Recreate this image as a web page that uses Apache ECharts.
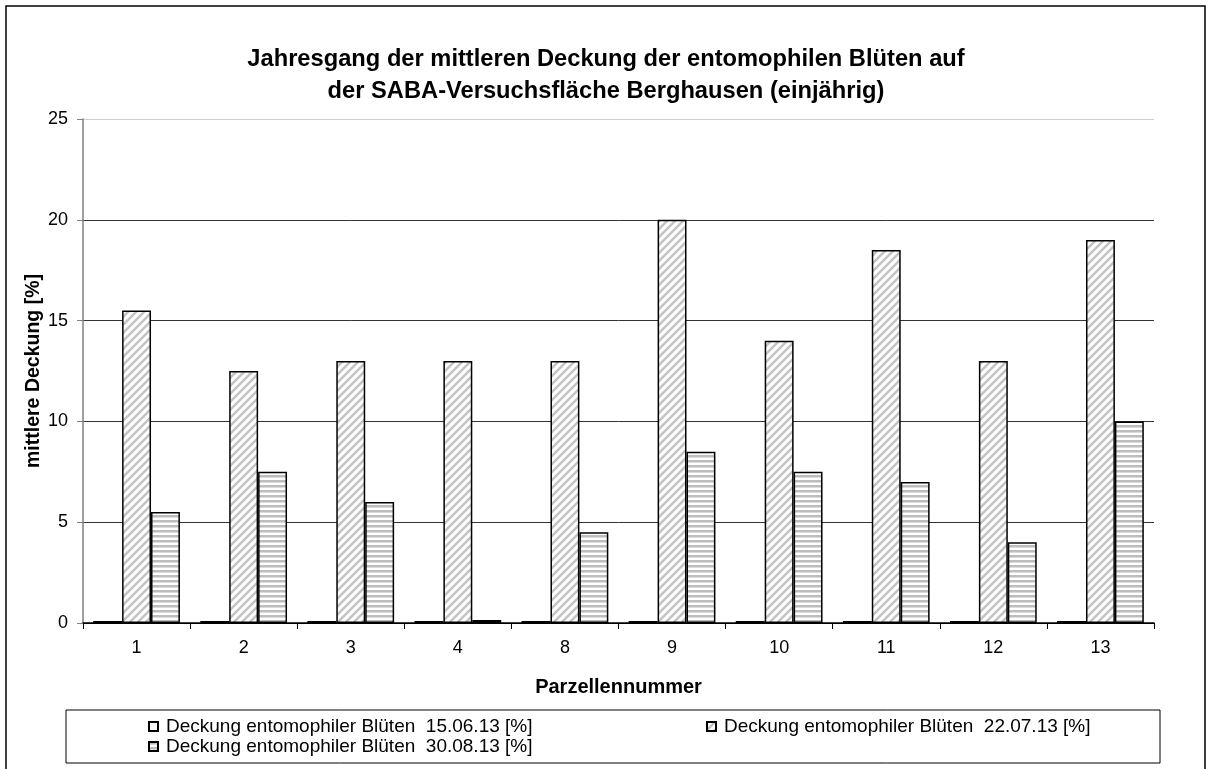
<!DOCTYPE html>
<html>
<head>
<meta charset="utf-8">
<script src="https://cdn.jsdelivr.net/npm/echarts@6/dist/echarts.min.js"></script>
<style>
  html, body { margin: 0; padding: 0; background: #fff; }
  #chart { width: 1212px; height: 769px; }
</style>
</head>
<body>
<div id="chart"></div>
<script>
// Plot numbers (Parzellennummer) and mean cover per sampling date
const plots = ['1', '2', '3', '4', '8', '9', '10', '11', '12', '13'];
const cover150613 = [0.1, 0.1, 0.1, 0.1, 0.1, 0.1, 0.1, 0.1, 0.1, 0.1];
const cover220713 = [15.5, 12.5, 13, 13, 13, 20, 14, 18.5, 13, 19];
const cover300813 = [5.5, 7.5, 6, 0.15, 4.5, 8.5, 7.5, 7, 4, 10];
const seriesNames = [
  'Deckung entomophiler Blüten  15.06.13 [%]',
  'Deckung entomophiler Blüten  22.07.13 [%]',
  'Deckung entomophiler Blüten  30.08.13 [%]'
];
const yTicks = [0, 5, 10, 15, 20, 25];

const FONT = 'Liberation Sans, Arial, sans-serif';

// Diagonal hatch fill
function diagonalPattern() {
  const c = document.createElement('canvas');
  c.width = 8; c.height = 8;
  const g = c.getContext('2d');
  g.fillStyle = '#ffffff';
  g.fillRect(0, 0, 8, 8);
  g.strokeStyle = '#c4c4c4';
  g.lineWidth = 2.6;
  g.beginPath();
  g.moveTo(-1, 9); g.lineTo(9, -1);
  g.moveTo(-5, 5); g.lineTo(5, -5);
  g.moveTo(3, 13); g.lineTo(13, 3);
  g.stroke();
  return c;
}
// Horizontal stripe fill
function horizontalPattern() {
  const c = document.createElement('canvas');
  c.width = 4; c.height = 5;
  const g = c.getContext('2d');
  g.fillStyle = '#ffffff';
  g.fillRect(0, 0, 4, 5);
  g.fillStyle = '#bdbdbd';
  g.fillRect(0, 0, 4, 2);
  g.fillStyle = '#dcdcdc';
  g.fillRect(0, 2, 4, 1);
  return c;
}

const fills = [
  '#ffffff',
  { image: diagonalPattern(), repeat: 'repeat' },
  { image: horizontalPattern(), repeat: 'repeat' }
];
const values = [cover150613, cover220713, cover300813];

const chart = echarts.init(document.getElementById('chart'), null, { renderer: 'canvas' });

const legendPos = [
  { left: 148, top: 717 },
  { left: 706, top: 717 },
  { left: 148, top: 737 }
];

const option = {
  backgroundColor: '#ffffff',
  animation: false,
  title: {
    text: 'Jahresgang der mittleren Deckung der entomophilen Blüten auf\nder SABA-Versuchsfläche Berghausen (einjährig)',
    left: 'center',
    top: 38,
    textStyle: { fontFamily: FONT, fontSize: 23.7, fontWeight: 'bold', color: '#000', lineHeight: 32 }
  },
  legend: seriesNames.map((n, i) => ({
    data: [n],
    left: legendPos[i].left,
    top: legendPos[i].top,
    orient: 'horizontal',
    icon: 'rect',
    itemWidth: 9,
    itemHeight: 9,
    itemGap: 0,
    padding: 0,
    selectedMode: false,
    textStyle: { fontFamily: FONT, fontSize: 19, color: '#000', padding: [0, 0, 0, 3] }
  })),
  grid: { left: 83, right: 58, top: 119, bottom: 146, containLabel: false },
  xAxis: {
    type: 'category',
    data: plots,
    name: 'Parzellennummer',
    nameLocation: 'middle',
    nameGap: 54,
    nameTextStyle: { fontFamily: FONT, fontSize: 20, fontWeight: 'bold', color: '#000' },
    axisLine: { lineStyle: { color: '#000', width: 1.5 } },
    axisTick: { show: true, length: 6, lineStyle: { color: '#000' } },
    axisLabel: { fontFamily: FONT, fontSize: 18, color: '#000', margin: 16 },
    splitLine: { show: false }
  },
  yAxis: {
    type: 'value',
    min: 0,
    max: 25,
    interval: 5,
    name: 'mittlere Deckung [%]',
    nameLocation: 'middle',
    nameGap: 39,
    nameMoveOverlap: false,
    nameRotate: 90,
    nameTextStyle: { fontFamily: FONT, fontSize: 19.5, fontWeight: 'bold', color: '#000' },
    axisLine: { show: true, lineStyle: { color: '#808080', width: 1.5 } },
    axisTick: { show: true, length: 6, lineStyle: { color: '#808080' } },
    axisLabel: {
      fontFamily: FONT, fontSize: 18, color: '#000', margin: 15,
      formatter: v => (yTicks.indexOf(v) >= 0 ? String(v) : '')
    },
    splitLine: {
      show: true,
      lineStyle: { color: ['#000', '#333', '#333', '#333', '#333', '#cfcfcf'], width: 1 }
    }
  },
  series: values.map((vals, i) => ({
    name: seriesNames[i],
    type: 'bar',
    data: vals,
    barGap: '0%',
    barCategoryGap: '19%',
    itemStyle: { color: fills[i], borderColor: '#000', borderWidth: 1.5 },
    emphasis: { disabled: true }
  })),
  graphic: [
    {
      type: 'rect',
      shape: { x: 6, y: 6, width: 1199, height: 770 },
      style: { fill: 'none', stroke: '#000', lineWidth: 1.5 },
      silent: true
    },
    {
      type: 'rect',
      shape: { x: 66, y: 710, width: 1094, height: 53 },
      style: { fill: 'none', stroke: '#000', lineWidth: 1 },
      silent: true,
      z: -1
    }
  ]
};

chart.setOption(option);
</script>
</body>
</html>
